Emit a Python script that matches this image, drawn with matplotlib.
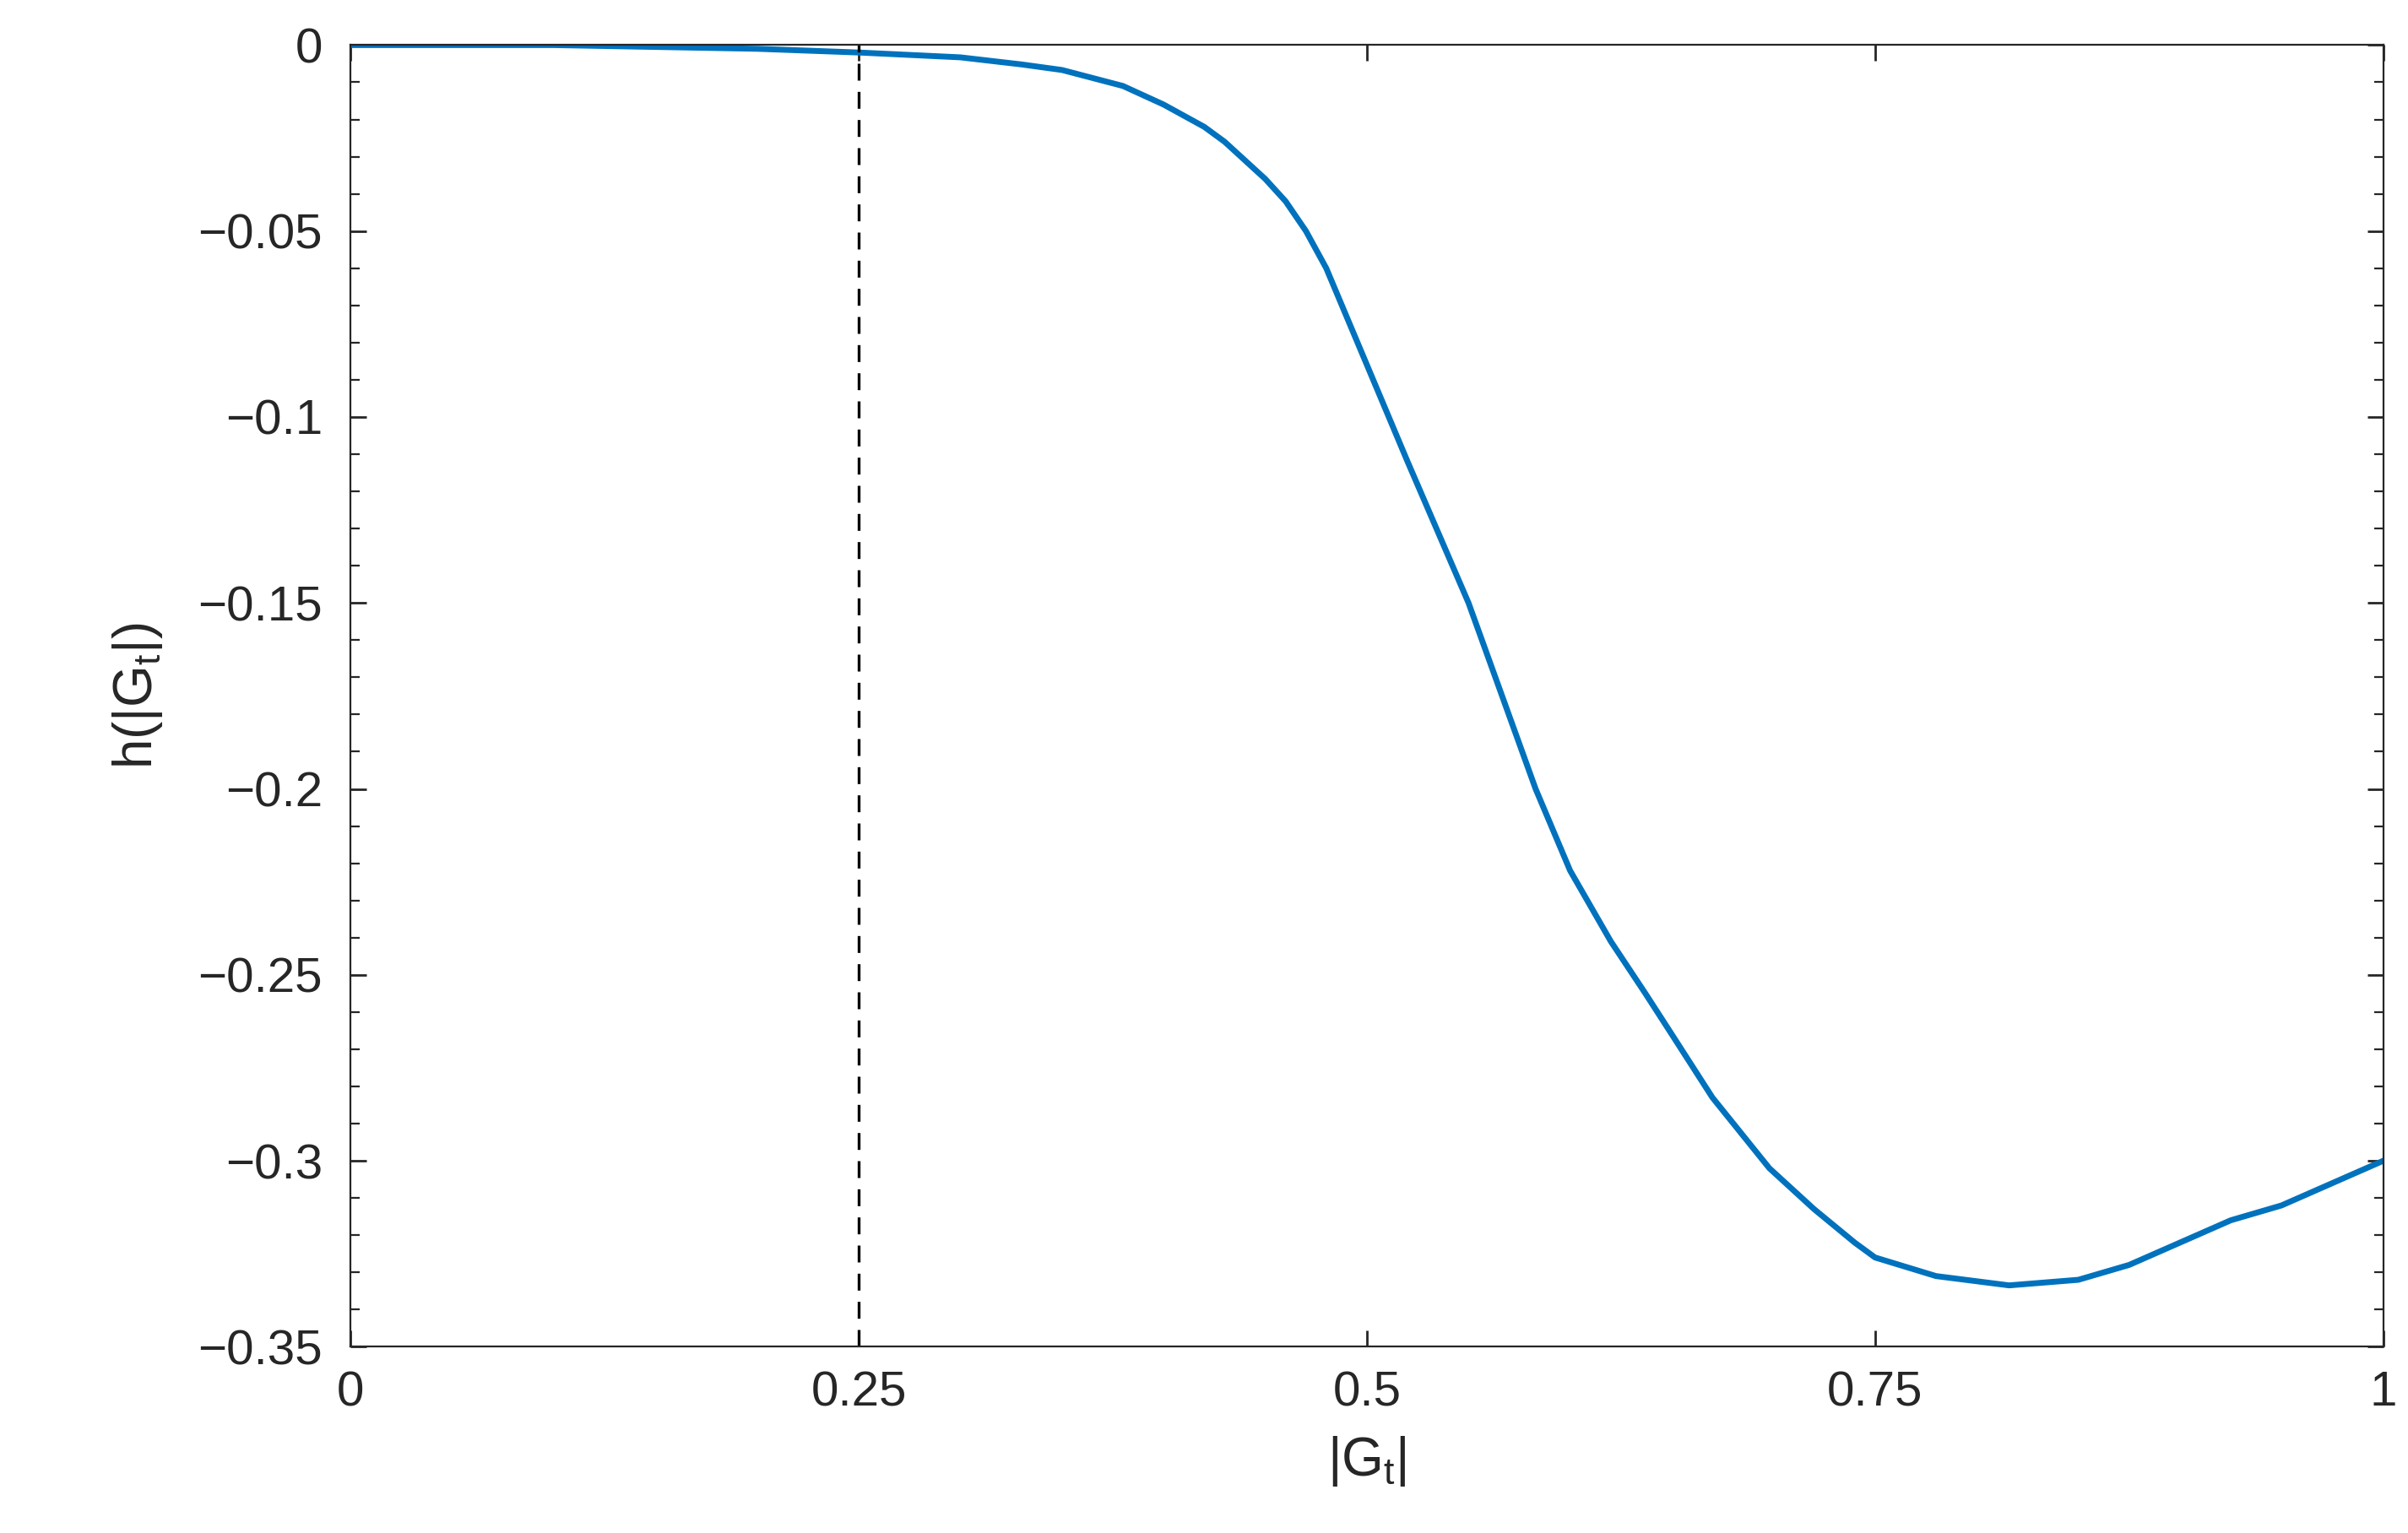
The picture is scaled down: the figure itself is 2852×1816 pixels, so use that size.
import matplotlib
matplotlib.use('Agg')
import matplotlib.pyplot as plt
from matplotlib.ticker import MultipleLocator, FuncFormatter

plt.rcParams['font.family'] = ['Liberation Sans', 'DejaVu Sans']
plt.rcParams['mathtext.default'] = 'regular'

# curve
gt = [0.0, 0.1, 0.2, 0.25, 0.3, 0.33, 0.35, 0.38, 0.4, 0.42, 0.43, 0.44, 0.45, 0.46, 0.47,
      0.48, 0.49, 0.5, 0.52, 0.55, 0.583, 0.6, 0.62, 0.637, 0.65, 0.67, 0.698, 0.72,
      0.74, 0.75, 0.78, 0.816, 0.85, 0.875, 0.9, 0.925, 0.95, 0.975, 1.0]
h = [0.0, 0.0, -0.001, -0.002, -0.0033, -0.0052, -0.0067, -0.011, -0.016, -0.022,
     -0.026, -0.031, -0.036, -0.042, -0.05, -0.06, -0.073, -0.086, -0.112, -0.15,
     -0.2, -0.222, -0.241, -0.255, -0.266, -0.283, -0.302, -0.313, -0.322, -0.326,
     -0.331, -0.3335, -0.332, -0.328, -0.322, -0.316, -0.312, -0.306, -0.30]
threshold = 0.25

fig = plt.figure(figsize=(14.26, 9.08), dpi=200)
ax = fig.add_axes([0.1456, 0.1215, 0.8441, 0.8491])
ax.plot(gt, h, color='#0072BD', lw=2.5)
ax.axvline(threshold, color='k', ls=(0, (6, 4)), lw=1.2)

ax.set_xlim(0, 1)
ax.set_ylim(-0.35, 0)
ax.set_xticks([0, 0.25, 0.5, 0.75, 1])
ax.yaxis.set_major_locator(MultipleLocator(0.05))
ax.yaxis.set_minor_locator(MultipleLocator(0.01))
fmt = FuncFormatter(lambda v, p: ('%g' % round(v, 3)).replace('-', '\u2212'))
ax.xaxis.set_major_formatter(fmt)
ax.yaxis.set_major_formatter(fmt)
ax.tick_params(which='both', direction='in', top=True, right=True, labelsize=21,
               colors='#262626', labelcolor='#262626')
ax.tick_params(which='major', length=7, width=1, pad=10)
ax.tick_params(which='minor', length=4, width=0.8)
ax.tick_params(axis='y', pad=12)
for s in ax.spines.values():
    s.set_color('#262626')

ax.set_xlabel(r'$|G_t|$', fontsize=23, color='#262626', labelpad=8)
ax.set_ylabel(r'$h(|G_t|)$', fontsize=23, color='#262626', labelpad=14)

fig.savefig('out.png', dpi=200)
